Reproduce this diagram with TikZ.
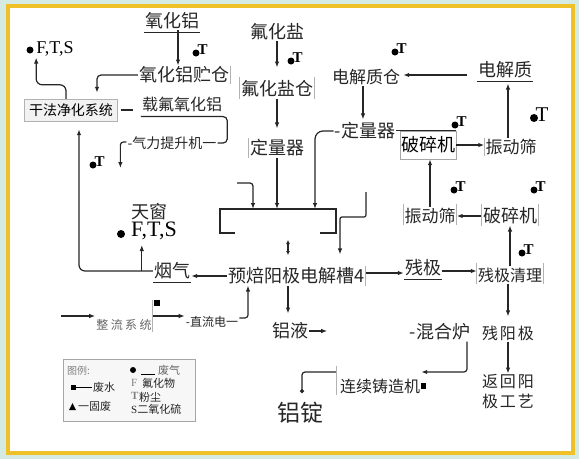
\documentclass[tikz,border=0pt]{standalone}
\usepackage{fontspec}
\setmainfont{Liberation Serif}
\newfontfamily\cjk{Noto Sans CJK SC}
\usetikzlibrary{arrows.meta}
\definecolor{framec}{RGB}{240,192,40}
\definecolor{bgc}{RGB}{214,234,228}

\begin{document}
\begin{tikzpicture}[x=1pt,y=-1pt,
  txt/.style={font=\cjk\fontsize{18}{20}\selectfont,inner sep=1pt,text=black!85},
  mid/.style={txt,font=\cjk\fontsize{16}{18}\selectfont},
  sml/.style={txt,font=\cjk\fontsize{14}{16}\selectfont},
  tny/.style={txt,font=\cjk\fontsize{12}{14}\selectfont},
  lgd/.style={txt,font=\cjk\fontsize{11}{12}\selectfont,inner sep=0pt,anchor=west},
  wide/.style={txt,font=\cjk\addfontfeature{LetterSpace=12}\fontsize{16}{20}\selectfont},
  ln/.style={line width=1.2pt,draw=black!85},
  arr/.style={ln,-{Latex[length=6pt,width=4.5pt]}},
  bar/.style={draw=gray!60,line width=0.8pt},
  tagT/.style={anchor=west,inner sep=0pt,xshift=1.5pt,yshift=3pt,font=\bfseries\fontsize{15}{15}\selectfont}
  ]
\fill[bgc] (0,0) rectangle (579,459);
\draw[line width=4pt,draw=framec,fill=white] (8,5.5) rectangle (572.5,452.5);
\useasboundingbox (0,0) rectangle (579,459);

% raw materials, left
\node[txt] (al) at (172,21) {氧化铝};
\node[txt] (alsilo) at (184,75) {氧化铝贮仓};
\node[draw=gray!60,fill=gray!10,minimum width=93,minimum height=22,inner sep=0pt,
  font=\cjk\fontsize{14}{16}\selectfont] (dry) at (71,110) {干法净化系统};
\fill (30,50) circle (3.5);
\node[font=\fontsize{18}{18}\selectfont,inner sep=1pt] (fts1) at (55,49) {F,T,S};
\node[mid] (loadal) at (182,104) {载氟氧化铝};
\node[sml] (lift) at (172,143) {-气力提升机一};
\node[txt] (sky) at (149,212) {天窗};
\fill (121,234) circle (4);
\node[font=\fontsize{22}{22}\selectfont,inner sep=1pt] (fts2) at (154,231) {F,T,S};
\node[txt] (flue) at (172,271) {烟气};
\node[txt] (cell) at (296,276) {预焙阳极电解槽4};

% fluoride and electrolyte
\node[txt] (fl) at (277,32) {氟化盐};
\node[txt] (flsilo) at (277,89) {氟化盐仓};
\node[txt] (dose1) at (277,148) {定量器};
\node[txt,font=\cjk\fontsize{17}{20}\selectfont] (elsilo) at (366,77) {电解质仓};
\node[txt] (dose2) at (365,131) {-定量器};
\node[txt] (elec) at (505,70) {电解质};
\node[draw=gray!70,minimum width=56,minimum height=28,inner sep=0pt,
  font=\cjk\fontsize{18}{20}\selectfont] (crush1) at (428,145) {破碎机};
\node[txt,font=\cjk\fontsize{17}{20}\selectfont] (sieve1) at (511,147) {振动筛};
\node[txt,font=\cjk\fontsize{17}{20}\selectfont] (sieve2) at (430,216) {振动筛};
\node[txt] (crush2) at (510,216) {破碎机};
\node[txt] (butt) at (423,268) {残极};
\node[mid] (clean) at (510,275) {残极清理};
\node[wide] (spent) at (508,333) {残阳极};
\node[wide,align=left] (back) at (508,392) {返回阳\\极工艺};

% power and products
\node[tny,text=black!60,font=\cjk\addfontfeature{LetterSpace=20}\fontsize{12}{14}\selectfont] (rect) at (124,325) {整流系统};
\node[tny] (dc) at (212,322) {-直流电一};
\node[txt] (liq) at (290,331) {铝液};
\node[txt] (mix) at (440,332) {-混合炉};
\node[mid] (cast) at (380,386) {连续铸造机};
\node[txt,font=\cjk\fontsize{23}{25}\selectfont] (ingot) at (300,413) {铝锭};

% cell tray
\coordinate (trayL) at (220,209);
\coordinate (trayR) at (336,209);
\coordinate (in1) at (237,183);
\coordinate (in2) at (366,192);
\draw[ln] ([xshift=15,yshift=-24]trayL) -- ++(-15,0) -- (trayL) -- (trayR) -- ++(0,24) -- ++(-16,0);

% connectors
\draw[arr] ([xshift=6]al.south) -- ([xshift=6]al.south |- alsilo.north);
\draw[arr,rounded corners=4,shorten >=6pt] (alsilo.west) -| ([xshift=26]dry.north);
\draw[arr,rounded corners=6] ([xshift=-5]dry.north) -- ++(0,-14) -| ([xshift=1]fts1.south west);
\draw[ln,shorten <=3pt,shorten >=8pt] (dry.east) -- (dry.east -| loadal.west);
\draw[ln,rounded corners=4] ([yshift=-4]loadal.south west) -- ([xshift=4,yshift=-4]loadal.south east) |- (lift.east);
\draw[arr,rounded corners=3] ([yshift=1]lift.west) -- ++(-6,0) -- ++(0,26);
\draw[arr,rounded corners=6,shorten >=8pt] (flue.west) -| ([xshift=8]dry.south);
\path (flue.west) ++(-11,0) coordinate (sk);
\draw[arr] (sk) -- ++(0,-26);
\draw[arr] (cell.west) -- (cell.west -| flue.east);

\draw[arr,shorten >=12pt] (fl) -- (flsilo);
\draw[arr,shorten >=10pt] (flsilo) -- (dose1);
\draw[arr] (dose1) -- (dose1 |- trayL);
\draw[arr,rounded corners=3] (in1) -| ([xshift=33]trayL);
\draw[arr,rounded corners=8] (dose2.west) -| ([xshift=95]trayL);
\draw[arr,rounded corners=2] (in2) -- ++(0,25) -| ([xshift=44,yshift=12]cell.north);
\draw[ln,{Latex[length=4pt,width=4pt]}-{Latex[length=4pt,width=4pt]}] (288,240) -- (288,255);
\draw[arr,shorten >=8pt] ([xshift=-8]cell.south) -- ([xshift=-8]cell.south |- liq.north);
\draw[arr] (liq.east) -- ++(18,0);
\draw[arr,rounded corners=3] ([yshift=4]dc.east) -| ([xshift=-48]cell.south);
\draw[arr] ([xshift=-34,yshift=9]rect.west) -- ([yshift=9]rect.west);
\draw[arr] ([yshift=9]rect.east) -- ([yshift=9]rect.east -| dc.west);
\fill (154,300) rectangle (160,306);

\draw[arr,shorten >=2pt] ([xshift=-3]elsilo.south) -- ([xshift=-3]elsilo.south |- dose2.north);
\draw[arr,shorten >=12pt] ([xshift=-10,yshift=-5]elec.west) -- ([xshift=-10,yshift=-5]elec.west -| elsilo.east);
\draw[ln] (dose2.east |- crush1.north) -- (crush1.north east);
\draw[arr] (crush1.east) -- (crush1.east -| sieve1.west);
\draw[arr,shorten >=4pt] ([xshift=-3]sieve1.north) -- ([xshift=-3]sieve1.north |- elec.south);
\draw[arr] (sieve2.north) -- (sieve2.north |- crush1.south);
\draw[arr] (crush2) -- (sieve2);
\draw[arr] (clean) -- (crush2);
\draw[arr] ([yshift=3]cell.east) -- ([yshift=3]cell.east -| butt.west);
\draw[arr] ([yshift=-3]butt.east) -- ([yshift=-3]butt.east -| clean.west);
\draw[arr,shorten >=8pt] (clean.south -| spent.north) -- (spent.north);
\draw[arr] (spent) -- (back);

\draw[arr,rounded corners=3] ([xshift=27]mix.south) |- ([yshift=14]cast.east);
\fill (cast.east) ++(0,-3) rectangle ++(5,6);
\draw[ln,-{Circle[length=4pt]},rounded corners=3] ([xshift=-2,yshift=14]cast.west) -| ([xshift=2,yshift=8]ingot.north);

% underlines and side bars
\foreach \n in {al,flue,butt,elec}
  \draw[ln,line width=0.9pt] ([yshift=-2]\n.south west) -- ([yshift=-2]\n.south east);
\foreach \n in {flsilo,clean,crush2,sieve2} {
  \draw[bar] ([yshift=3]\n.north west) -- (\n.south west);
  \draw[bar] ([yshift=3]\n.north east) -- (\n.south east);
}
\foreach \n in {dose1,sieve1} \draw[bar] (\n.north west) -- (\n.south west);
\foreach \n in {alsilo,cell} \draw[bar] (\n.north east) -- (\n.south east);
\draw[bar] ([yshift=18]rect.north east) -- (rect.south east);
\draw[bar] ([xshift=-2,yshift=11]cast.north west) -- ([xshift=-2]cast.south west);

% dust marks
\foreach \p in {(196,53),(291,61),(395,52),(455,125),(454,190),(534,190),(522,253),(93,165)}
  \fill \p circle (3.5) node[tagT] {T};
\fill (534,118) circle (4) node[tagT,font=\fontsize{21}{21}\selectfont] {T};

% legend
\node[draw=gray!70,fill=gray!6,minimum width=132,minimum height=62,inner sep=0pt] (key) at (129,390) {};
\node[lgd,text=gray,font=\cjk\fontsize{10}{12}\selectfont] (k0) at (67,371) {图例:};
\fill (70.5,384.5) rectangle ++(5,5);
\draw[line width=0.8pt] (76,387) -- (92,387);
\node[lgd] (k1) at (93,387) {废水};
\fill (69,410) -- (76,410) -- (72.5,403) -- cycle;
\node[lgd] (k2) at (78,406) {一固废};
\fill (133,370) circle (3);
\draw[line width=0.8pt] (141,374) -- (155,374);
\node[lgd,text=black!60] (k3) at (158,370) {废气};
\node[lgd,text=gray,font=\fontsize{11}{12}\selectfont] (k4) at (131,383) {F};
\node[lgd] (k5) at (142,383) {氟化物};
\node[lgd,text=gray,font=\bfseries\fontsize{11}{12}\selectfont] (k6) at (131,396) {T};
\node[lgd] (k7) at (139,397) {粉尘};
\node[lgd] (k8) at (131,409) {{\rmfamily S}二氧化硫};
\end{tikzpicture}
\end{document}
